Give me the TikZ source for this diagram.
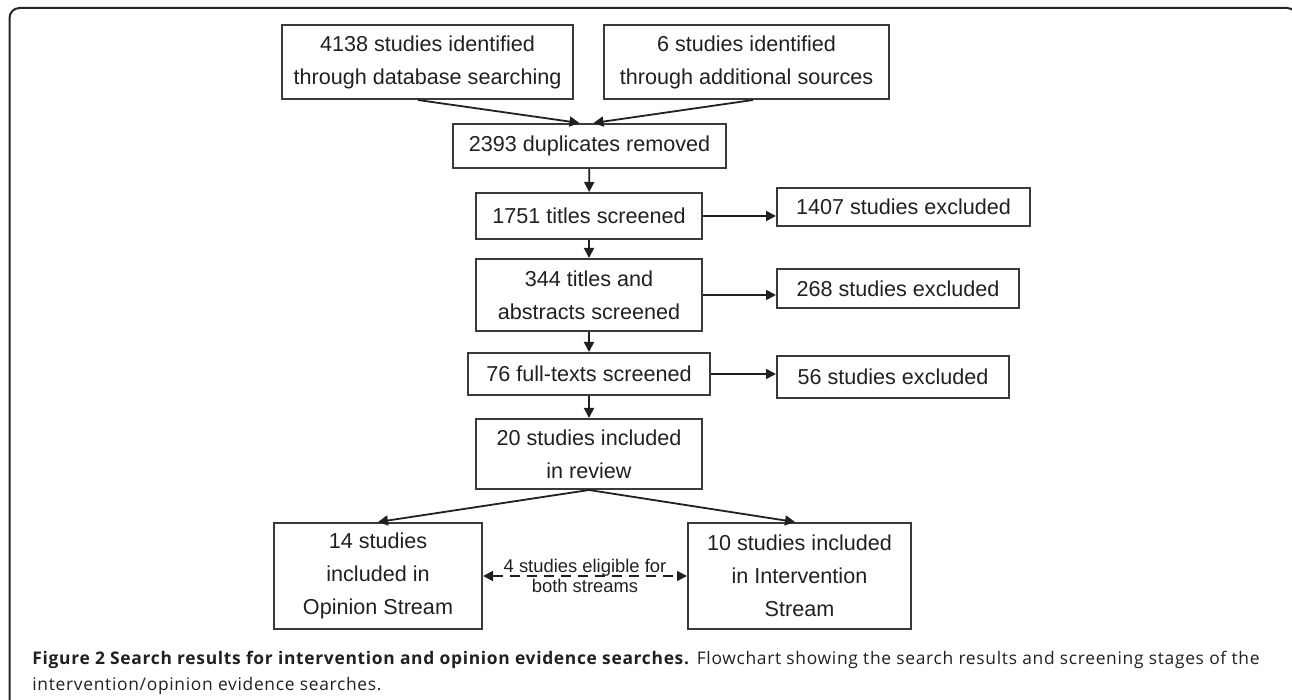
\documentclass[tikz,border=0pt]{standalone}
\usepackage{fontspec}
\setmainfont{Liberation Sans}
\newfontfamily\capfont{Open Sans}[LetterSpace=4]
\usepackage{tikz}
\usetikzlibrary{arrows.meta}
\definecolor{ink}{HTML}{231F20}
\definecolor{rim}{HTML}{3A3A3A}
\tikzstyle{box}=[draw=rim,line width=1pt,inner sep=0pt,align=center,text=ink,
                font=\fontsize{10.8}{16.5}\selectfont]
\tikzstyle{flow}=[draw=ink,line width=0.9pt,-{Triangle[length=5pt,width=5pt]}]
\tikzstyle{both}=[draw=ink,line width=0.9pt,dash pattern=on 5pt off 3.5pt,
                {Triangle[length=5pt,width=5pt]}-{Triangle[length=5pt,width=5pt]}]
\tikzstyle{frame}=[draw=black!85,line width=1pt,rounded corners=5pt]
\begin{document}
\begin{tikzpicture}[x=0.5pt,y=-0.5pt]
\useasboundingbox (0,0) rectangle (1292,700);
\draw[frame] (9.5,8) rectangle (1297,710);
% search and screening
\node[box,minimum width=145.5pt,minimum height=37pt] (idb) at (427.5,62)
  {4138 studies identified\\through database searching};
\node[box,minimum width=142.5pt,minimum height=37pt] (iadd) at (746.5,62)
  {6 studies identified\\through additional sources};
\node[box,minimum width=136.5pt,minimum height=22pt] (dup) at (589.5,146)
  {2393 duplicates removed};
\node[box,minimum width=113pt,minimum height=23pt] (titles) at (589,216)
  {1751 titles screened};
\node[box,minimum width=113pt,minimum height=36pt] (abstracts) at (589,295)
  {344 titles and\\abstracts screened};
\node[box,minimum width=121pt,minimum height=21pt] (fulltexts) at (589,374)
  {76 full-texts screened};
\node[box,minimum width=113pt,minimum height=35pt] (incl) at (589,454)
  {20 studies included\\in review};
% exclusions
\node[box,minimum width=126.5pt,minimum height=19pt] (extitles) at (903.5,207)
  {1407 studies excluded};
\node[box,minimum width=121pt,minimum height=19.5pt] (exabstracts) at (898,288.5)
  {268 studies excluded};
\node[box,minimum width=116pt,minimum height=21pt] (exfull) at (893,377)
  {56 studies excluded};
% streams
\node[box,minimum width=104pt,minimum height=53pt] (opinion) at (378,576)
  {14 studies\\included in\\Opinion Stream};
\node[box,minimum width=111.5pt,minimum height=53pt] (interv) at (799.5,576)
  {10 studies included\\in Intervention\\Stream};
\draw[flow] ([xshift=-4.75pt]idb.south) -- ([xshift=-5pt]dup.north);
\draw[flow] ([xshift=3.25pt]iadd.south) -- ([xshift=2pt]dup.north);
\draw[flow] (dup) -- (titles);
\draw[flow] (titles) -- (abstracts);
\draw[flow] (abstracts) -- (fulltexts);
\draw[flow] (fulltexts) -- (incl);
\draw[flow] (titles.east) -- (titles.east -| extitles.west);
\draw[flow] (abstracts.east) -- (abstracts.east -| exabstracts.west);
\draw[flow] (fulltexts.east) -- (fulltexts.east -| exfull.west);
\draw[flow] (incl.south) -- (opinion.north);
\draw[flow] (incl.south) -- ([xshift=-2.25pt]interv.north);
\draw[both] (opinion) -- node[text=ink,align=center,inner sep=0pt,
  font=\fontsize{9.2}{10}\selectfont] (eligible) {4 studies eligible for\\both streams} (interv);
% caption
\node[anchor=north west,align=left,inner sep=0pt,text=ink,
  font=\capfont\fontsize{8.7}{13}\selectfont] (caption) at (32,651)
  {\textbf{Figure 2 Search results for intervention and opinion evidence searches.}
   Flowchart showing the search results and screening stages of the\\
   intervention/opinion evidence searches.};
\end{tikzpicture}
\end{document}
